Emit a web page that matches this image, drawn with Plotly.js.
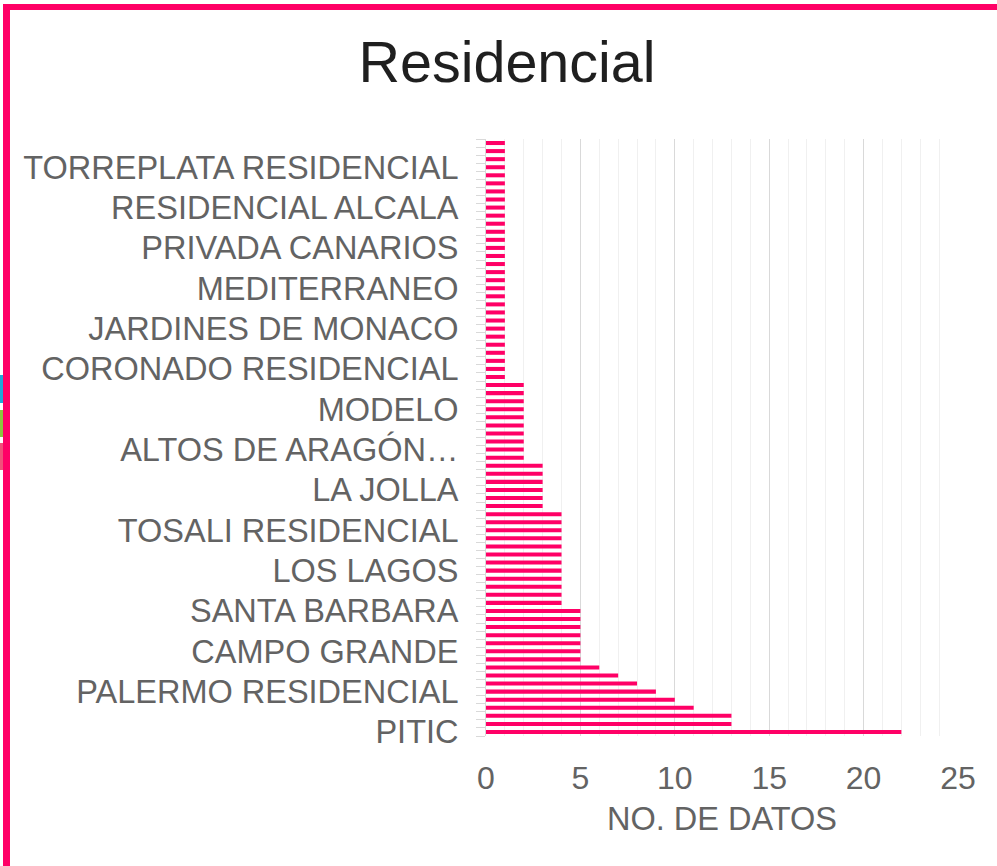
<!DOCTYPE html>
<html>
<head>
<meta charset="utf-8">
<script src="https://cdn.plot.ly/plotly-3.0.1.min.js"></script>
<style>html,body{margin:0;padding:0;background:#fff;}#chart{width:997px;height:866px;}</style>
</head>
<body>
<div id="chart"></div>
<script>
// Values per bar, from the bottom bar (PITIC) upward
const counts = [
  22, 13, 13, 11, 10, 9, 8, 7, 6, 5,
  5, 5, 5, 5, 5, 5, 4, 4, 4, 4,
  4, 4, 4, 4, 4, 4, 4, 4, 3, 3,
  3, 3, 3, 3, 2, 2, 2, 2, 2, 2,
  2, 2, 2, 2, 1, 1, 1, 1, 1, 1,
  1, 1, 1, 1, 1, 1, 1, 1, 1, 1,
  1, 1, 1, 1, 1, 1, 1, 1, 1, 1,
  1, 1, 1, 1
];
// Labels shown on every fifth bar, from the bottom upward
const shownLabels = [
  "PITIC", "PALERMO RESIDENCIAL", "CAMPO GRANDE", "SANTA BARBARA", "LOS LAGOS",
  "TOSALI RESIDENCIAL", "LA JOLLA", "ALTOS DE ARAGÓN…", "MODELO", "CORONADO RESIDENCIAL",
  "JARDINES DE MONACO", "MEDITERRANEO", "PRIVADA CANARIOS", "RESIDENCIAL ALCALA", "TORREPLATA RESIDENCIAL"
];
const labelStep = 5;
const xTicks = [0, 5, 10, 15, 20, 25];

const W = 997, H = 866;
const M = {l: 486, r: 39, t: 139, b: 130};
const pw = W - M.l - M.r, ph = H - M.t - M.b;
const px = x => (x - M.l) / pw;
const py = y => (H - M.b - y) / ph;

const positions = counts.map((v, i) => i);
const tickPos = shownLabels.map((s, i) => i * labelStep);

const font = "Liberation Sans, Arial, sans-serif";
const pink = "#FF0066";
const grey = "#636363";

function rect(x0, y0, x1, y1, color) {
  return {type: "rect", xref: "paper", yref: "paper", x0: px(x0), x1: px(x1), y0: py(y1), y1: py(y0),
          fillcolor: color, line: {width: 0}, layer: "above"};
}

const data = [{
  type: "bar",
  orientation: "h",
  x: counts,
  y: positions,
  marker: {color: pink, line: {width: 0}},
  hoverinfo: "x"
}];

const layout = {
  width: W, height: H,
  margin: M,
  paper_bgcolor: "#ffffff",
  plot_bgcolor: "#ffffff",
  showlegend: false,
  bargap: 0.5,
  title: {
    text: "Residencial",
    font: {family: font, size: 57.5, color: "#1f1f1f"},
    x: 507 / W, xref: "container", xanchor: "center",
    y: 1 - 62 / H, yref: "container", yanchor: "middle"
  },
  xaxis: {
    range: [0, 25],
    tickvals: xTicks,
    ticktext: xTicks.map(String),
    showgrid: true, gridcolor: "#d9d9d9", gridwidth: 1,
    minor: {dtick: 1, showgrid: true, gridcolor: "#f0f0f0", gridwidth: 1},
    zeroline: false,
    showline: false,
    ticks: "",
    ticklabelstandoff: 20,
    tickfont: {family: font, size: 32, color: grey},
    title: {text: "NO. DE DATOS", font: {family: font, size: 32.5, color: grey}, standoff: 12},
    fixedrange: true
  },
  yaxis: {
    range: [-0.5, counts.length - 0.5],
    tickvals: tickPos,
    ticktext: shownLabels,
    ticks: "",
    ticklabelstandoff: 20,
    showgrid: false,
    zeroline: false,
    showline: true, linecolor: "#d9d9d9", linewidth: 1,
    minor: {tick0: 0.5, dtick: 1, ticks: "outside", ticklen: 9, tickwidth: 1, tickcolor: "#d9d9d9", showgrid: false},
    tickfont: {family: font, size: 32.5, color: grey},
    fixedrange: true
  },
  shapes: [
    rect(3, 4, 10, H, pink),
    rect(3, 4, W, 10, pink),
    rect(0, 375, 3, 403, "#1fa8d8"),
    rect(0, 410, 3, 437, "#8cc63f"),
    rect(0, 443, 3, 470, "#f0507a")
  ]
};

Plotly.newPlot("chart", data, layout, {displayModeBar: false, staticPlot: true});
</script>
</body>
</html>
